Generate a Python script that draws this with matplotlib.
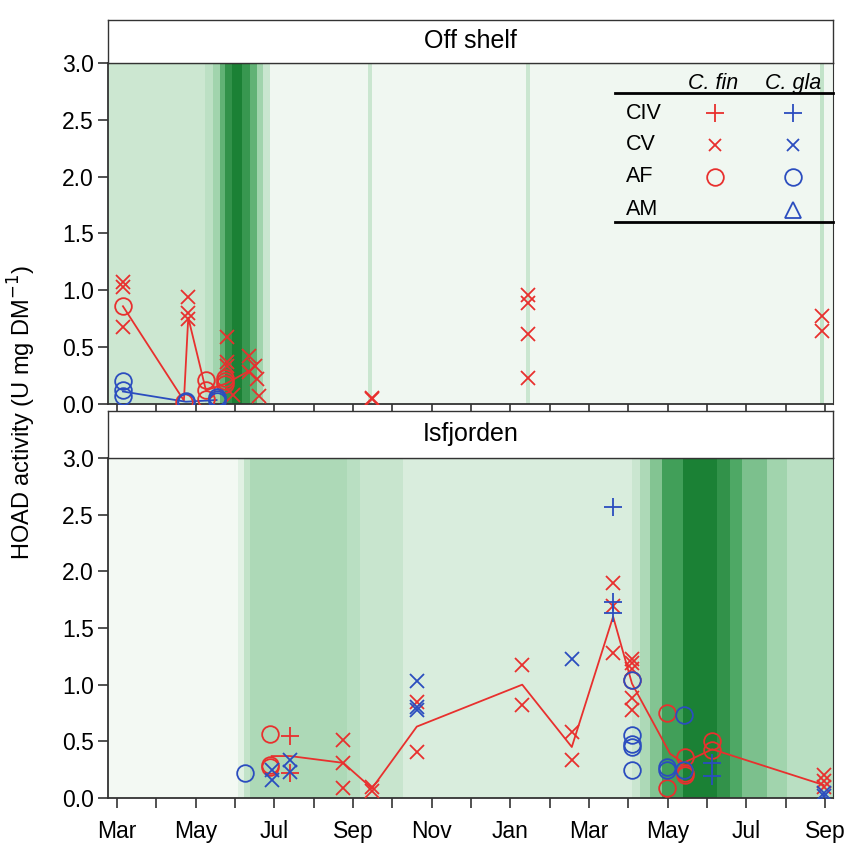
import matplotlib
matplotlib.use('Agg')
import matplotlib.pyplot as plt
import numpy as np
from matplotlib.colors import LinearSegmentedColormap
import matplotlib.transforms as mtransforms

plt.rcParams['font.family'] = ['Liberation Sans', 'DejaVu Sans']

# ---------------- data (x in months since 1 March of first year) ----------------
month_ticks = list(range(19))
month_labels = ['Mar', '', 'May', '', 'Jul', '', 'Sep', '', 'Nov', '', 'Jan', '',
                'Mar', '', 'May', '', 'Jul', '', 'Sep']
y_ticks = [0.0, 0.5, 1.0, 1.5, 2.0, 2.5, 3.0]

# background shading (green intensity 0..1) as bins
off_bg_edges = [-0.5, 2.24, 2.44, 2.62, 2.75, 2.92, 3.18, 3.38, 3.56, 3.71, 3.89,
                6.38, 6.48, 10.40, 10.50, 17.87, 17.98, 18.5]
off_bg_vals = [0.27, 0.35, 0.48, 0.68, 0.88, 1.0, 0.85, 0.68, 0.48, 0.28,
               0.04, 0.28, 0.04, 0.28, 0.04, 0.32, 0.04]

isf_bg_edges = [-0.5, 3.08, 3.23, 3.38, 5.85, 6.18, 7.27, 13.09, 13.30, 13.55, 13.85,
                14.39, 15.25, 15.59, 15.89, 16.53, 17.04, 18.5]
isf_bg_vals = [0.02, 0.14, 0.32, 0.42, 0.36, 0.29, 0.19, 0.28, 0.42, 0.58, 0.8,
               1.0, 0.88, 0.74, 0.6, 0.48, 0.36]

# Off shelf
off_fin_cv_m = [0.15, 0.15, 0.15, 1.81, 1.81, 1.81, 2.79, 2.79, 2.79, 2.95,
                3.36, 3.36, 3.50, 3.56, 3.60, 6.48, 6.48,
                10.45, 10.45, 10.45, 10.45, 17.93, 17.93]
off_fin_cv_v = [1.07, 1.03, 0.68, 0.94, 0.80, 0.75, 0.59, 0.37, 0.33, 0.08,
                0.42, 0.28, 0.33, 0.22, 0.07, 0.05, 0.04,
                0.96, 0.89, 0.62, 0.23, 0.77, 0.64]
off_fin_af_m = [0.15, 1.70, 2.26, 2.26, 2.26, 2.75, 2.75, 2.75]
off_fin_af_v = [0.86, 0.02, 0.21, 0.12, 0.04, 0.23, 0.18, 0.20]
off_gla_af_m = [0.15, 0.15, 0.15, 1.75, 1.75, 2.53, 2.53, 2.53]
off_gla_af_v = [0.20, 0.12, 0.07, 0.03, 0.02, 0.06, 0.04, 0.03]
off_fin_line_m = [0.15, 1.70, 1.81, 2.26, 2.77, 3.40, 3.56]
off_fin_line_v = [0.86, 0.03, 0.76, 0.12, 0.18, 0.30, 0.36]
off_gla_line_m = [0.15, 1.75, 2.53]
off_gla_line_v = [0.11, 0.02, 0.035]

# Isfjorden
isf_fin_civ_m = [4.40, 4.40]
isf_fin_civ_v = [0.55, 0.22]
isf_fin_cv_m = [5.75, 5.75, 5.75, 6.48, 6.48, 7.62, 7.62, 10.30, 10.30, 11.56, 11.56,
                12.61, 12.61, 12.61, 13.09, 13.09, 13.09, 13.09, 13.09,
                17.96, 17.96, 17.96]
isf_fin_cv_v = [0.51, 0.31, 0.085, 0.10, 0.06, 0.85, 0.41, 1.17, 0.82, 0.58, 0.335,
                1.895, 1.69, 1.28, 1.23, 1.19, 1.14, 0.88, 0.78,
                0.20, 0.15, 0.10]
isf_fin_af_m = [3.89, 3.89, 3.89, 13.09, 13.98, 13.98, 14.44, 14.44, 14.44, 15.13, 15.13]
isf_fin_af_v = [0.565, 0.29, 0.27, 1.04, 0.75, 0.085, 0.36, 0.22, 0.20, 0.50, 0.42]
isf_gla_civ_m = [12.61, 12.61, 12.61, 15.13, 15.13]
isf_gla_civ_v = [2.57, 1.73, 1.63, 0.31, 0.19]
isf_gla_cv_m = [3.93, 3.93, 4.40, 4.40, 7.62, 7.62, 7.62, 11.56, 17.96, 17.96]
isf_gla_cv_v = [0.25, 0.16, 0.335, 0.23, 1.03, 0.80, 0.78, 1.23, 0.04, 0.02]
isf_gla_af_m = [3.25, 13.09, 13.09, 13.09, 13.09, 13.09, 13.98, 13.98, 14.40, 14.40]
isf_gla_af_v = [0.22, 1.04, 0.555, 0.48, 0.45, 0.25, 0.276, 0.25, 0.73, 0.25]
isf_fin_line_m = [3.93, 4.40, 5.75, 6.48, 7.62, 10.30, 11.56, 12.61, 13.09,
                  14.06, 14.40, 15.13, 17.96]
isf_fin_line_v = [0.37, 0.37, 0.31, 0.085, 0.63, 1.00, 0.45, 1.60, 1.01,
                  0.39, 0.31, 0.43, 0.115]

legend_rows = ['CIV', 'CV', 'AF', 'AM']
legend_cols = ['C. fin', 'C. gla']

# ---------------- styling ----------------
RED = '#e8302e'
BLUE = '#2b4dbf'
cmap = LinearSegmentedColormap.from_list(
    'bg', ['#f6faf6', '#d0e9d5', '#9dd2a9', '#4ba662', '#1b8135'])

W, H = 844, 851
fig = plt.figure(figsize=(W / 100, H / 100), dpi=100)


def fx(px):
    return px / W


def fy(py):
    return 1 - py / H


L, R = 108, 833
ax_top = fig.add_axes([fx(L), fy(404), fx(R) - fx(L), fy(63) - fy(404)])
ax_bot = fig.add_axes([fx(L), fy(798), fx(R) - fx(L), fy(458) - fy(798)])
st_top = fig.add_axes([fx(L), fy(63), fx(R) - fx(L), fy(20) - fy(63)])
st_bot = fig.add_axes([fx(L), fy(458), fx(R) - fx(L), fy(411) - fy(458)])

for st, title in [(st_top, 'Off shelf'), (st_bot, 'Isfjorden')]:
    st.set_xticks([])
    st.set_yticks([])
    st.set_facecolor('white')
    for s in st.spines.values():
        s.set_linewidth(1.0)
        s.set_color('#333333')
    st.text(0.5, 0.5, title, ha='center', va='center', fontsize=18,
            transform=st.transAxes)


def style_axis(ax, labels):
    ax.set_xlim(-0.23, 18.2)
    ax.set_ylim(0, 3.0)
    ax.set_xticks(month_ticks)
    ax.set_yticks(y_ticks)
    ax.set_yticklabels([f'{t:.1f}' for t in y_ticks])
    if labels:
        ax.set_xticklabels(month_labels)
        off = mtransforms.ScaledTranslation(-6.5 / 100, 0, fig.dpi_scale_trans)
        for lab in ax.get_xticklabels():
            lab.set_transform(lab.get_transform() + off)
    else:
        ax.set_xticklabels([])
    ax.tick_params(axis='both', direction='out', length=7, width=1.2,
                   color='#333333', pad=3)
    ax.tick_params(axis='y', labelsize=16.5)
    ax.tick_params(axis='x', labelsize=16.5, pad=9)
    for k, s in ax.spines.items():
        s.set_color('#333333')
        s.set_linewidth(1.3 if k in ('left', 'bottom') else 0.8)


def bg(ax, edges, vals):
    ax.pcolormesh(edges, [0, 3.0], np.array([vals]), cmap=cmap, vmin=0, vmax=1,
                  shading='flat', zorder=0)


def pts(ax, m, v, marker, color, ms):
    kw = dict(ls='none', marker=marker, ms=ms, mew=1.3, color=color, zorder=3)
    if marker in ('o', '^'):
        kw['mfc'] = 'none'
    ax.plot(m, v, **kw)


# top panel
bg(ax_top, off_bg_edges, off_bg_vals)
ax_top.plot(off_fin_line_m, off_fin_line_v, color=RED, lw=1.3, zorder=2)
ax_top.plot(off_gla_line_m, off_gla_line_v, color=BLUE, lw=1.3, zorder=2)
pts(ax_top, off_fin_cv_m, off_fin_cv_v, 'x', RED, 10.5)
pts(ax_top, off_fin_af_m, off_fin_af_v, 'o', RED, 12)
pts(ax_top, off_gla_af_m, off_gla_af_v, 'o', BLUE, 12)
style_axis(ax_top, False)

# bottom panel
bg(ax_bot, isf_bg_edges, isf_bg_vals)
ax_bot.plot(isf_fin_line_m, isf_fin_line_v, color=RED, lw=1.3, zorder=2)
pts(ax_bot, isf_fin_civ_m, isf_fin_civ_v, '+', RED, 13)
pts(ax_bot, isf_fin_cv_m, isf_fin_cv_v, 'x', RED, 10.5)
pts(ax_bot, isf_fin_af_m, isf_fin_af_v, 'o', RED, 12)
pts(ax_bot, isf_gla_civ_m, isf_gla_civ_v, '+', BLUE, 13)
pts(ax_bot, isf_gla_cv_m, isf_gla_cv_v, 'x', BLUE, 10.5)
pts(ax_bot, isf_gla_af_m, isf_gla_af_v, 'o', BLUE, 12)
style_axis(ax_bot, True)

# legend table inside top panel
tr = ax_top.transAxes
ax_top.plot([0.699, 1.0], [0.911, 0.911], color='black', lw=2, transform=tr,
            clip_on=False, zorder=5)
ax_top.plot([0.699, 1.0], [0.534, 0.534], color='black', lw=2, transform=tr,
            clip_on=False, zorder=5)
for xc, name in zip([0.834, 0.945], legend_cols):
    ax_top.text(xc, 0.941, name, ha='center', va='center', fontsize=15.5,
                style='italic', transform=tr, zorder=5)
row_y = [0.853, 0.760, 0.666, 0.569]
for yy, name in zip(row_y, legend_rows):
    ax_top.text(0.714, yy, name, ha='left', va='center', fontsize=15.5,
                transform=tr, zorder=5)
fin_marks = ['+', 'x', 'o', None]
gla_marks = ['+', 'x', 'o', '^']
for yy, mf, mg in zip(row_y, fin_marks, gla_marks):
    for xc, mk, col in [(0.837, mf, RED), (0.945, mg, BLUE)]:
        if mk is None:
            continue
        kw = dict(ls='none', marker=mk, ms={'+': 13, 'x': 9, 'o': 12, '^': 12}[mk],
                  mew=1.3, color=col, transform=tr, zorder=5, clip_on=False)
        if mk in ('o', '^'):
            kw['mfc'] = 'none'
        ax_top.plot([xc], [yy], **kw)

fig.text(fx(22), fy(412), 'HOAD activity (U mg DM$^{-1}$)', rotation=90,
         ha='center', va='center', fontsize=17)

fig.savefig('out.png', dpi=100)
